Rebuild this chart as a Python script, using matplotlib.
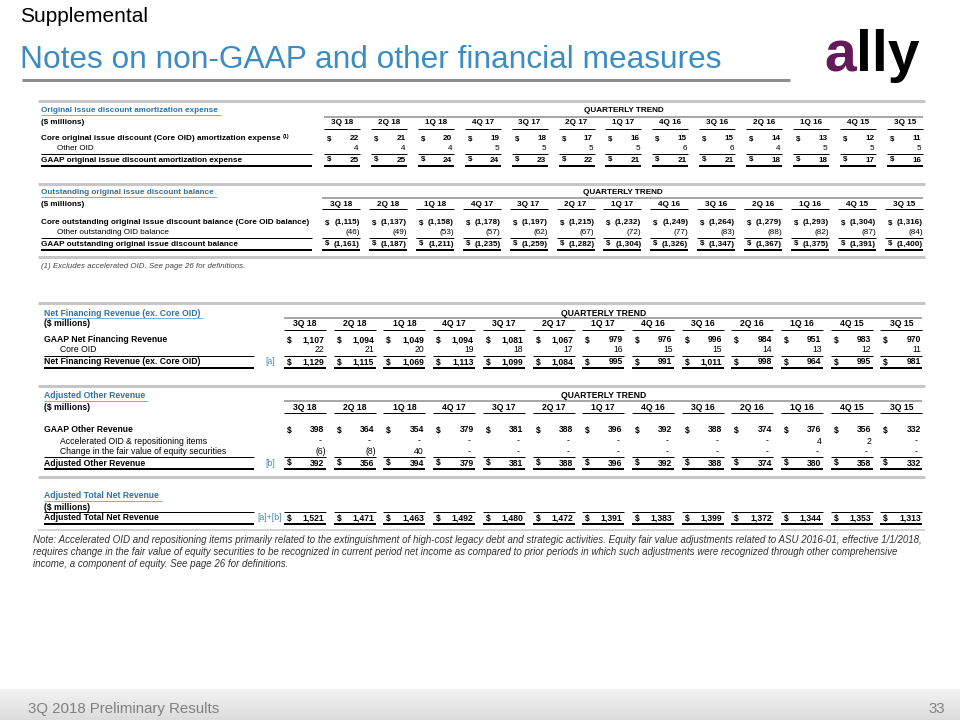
import matplotlib
matplotlib.use("Agg")
import matplotlib.pyplot as plt
import numpy as np
from matplotlib import font_manager
from matplotlib.colors import LinearSegmentedColormap

# ---- data ($ millions) ----
quarters = ["3Q 18", "2Q 18", "1Q 18", "4Q 17", "3Q 17", "2Q 17", "1Q 17",
            "4Q 16", "3Q 16", "2Q 16", "1Q 16", "4Q 15", "3Q 15"]

core_oid_amort = [22, 21, 20, 19, 18, 17, 16, 15, 15, 14, 13, 12, 11]
other_oid_amort = [4, 4, 4, 5, 5, 5, 5, 6, 6, 4, 5, 5, 5]
gaap_oid_amort = [25, 25, 24, 24, 23, 22, 21, 21, 21, 18, 18, 17, 16]

core_oid_bal = [-1115, -1137, -1158, -1178, -1197, -1215, -1232, -1249, -1264, -1279, -1293, -1304, -1316]
other_oid_bal = [-46, -49, -53, -57, -62, -67, -72, -77, -83, -88, -82, -87, -84]
gaap_oid_bal = [-1161, -1187, -1211, -1235, -1259, -1282, -1304, -1326, -1347, -1367, -1375, -1391, -1400]

gaap_nfr = [1107, 1094, 1049, 1094, 1081, 1067, 979, 976, 996, 984, 951, 983, 970]
core_oid = [22, 21, 20, 19, 18, 17, 16, 15, 15, 14, 13, 12, 11]
nfr_ex_oid = [1129, 1115, 1069, 1113, 1099, 1084, 995, 991, 1011, 998, 964, 995, 981]

gaap_other_rev = [398, 364, 354, 379, 381, 388, 396, 392, 388, 374, 376, 356, 332]
accel_oid = [0, 0, 0, 0, 0, 0, 0, 0, 0, 0, 4, 2, 0]
fair_value_chg = [-6, -8, 40, 0, 0, 0, 0, 0, 0, 0, 0, 0, 0]
adj_other_rev = [392, 356, 394, 379, 381, 388, 396, 392, 388, 374, 380, 358, 332]

adj_total_rev = [1521, 1471, 1463, 1492, 1480, 1472, 1391, 1383, 1399, 1372, 1344, 1353, 1313]

note_lines = [
    "Note: Accelerated OID and repositioning items primarily related to the extinguishment of high-cost legacy debt and strategic activities. "
    "Equity fair value adjustments related to ASU 2016-01, effective 1/1/2018,",
    "requires change in the fair value of equity securities to be recognized in current period net income as compared to prior periods "
    "in which such adjustments were recognized through other comprehensive",
    "income, a component of equity. See page 26 for definitions.",
]

# ---- styling ----
BLUE = "#3b8cc2"
SEC_BLUE = "#2a74aa"
TAG_BLUE = "#4a88b8"
BAR_GRAY = "#c6c6c6"
PX = 0.72  # 1 px in points at dpi 100

names = {f.name for f in font_manager.fontManager.ttflist}
HAS_NARROW = "Liberation Sans Narrow" in names
NARROW = "Liberation Sans Narrow" if HAS_NARROW else "Liberation Sans"
NSCALE = 1.0 if HAS_NARROW else 0.875
BASE = "Liberation Sans"

fig = plt.figure(figsize=(9.6, 7.2), dpi=100)
ax = fig.add_axes([0, 0, 1, 1])

# footer band
grad = np.linspace(0, 1, 40)[:, None]
cmap = LinearSegmentedColormap.from_list("band", ["#f3f3f3", "#dcdcdc"])
ax.imshow(grad, extent=(0, 960, 720, 689), cmap=cmap, aspect="auto", zorder=0)
ax.set_xlim(0, 960)
ax.set_ylim(720, 0)
ax.axis("off")


def hline(x0, x1, y, color="black", lw=1.0):
    ax.plot([x0, x1], [y, y], color=color, lw=lw * PX, solid_capstyle="butt")


def txt(x, y, s, size, ha="left", weight="bold", color="black", style="normal", family=BASE, va="center"):
    return ax.text(x, y, s, fontsize=size, ha=ha, va=va, fontweight=weight,
                   color=color, fontstyle=style, family=family)


def fmt(v):
    if v == 0:
        return "-", 5
    if v < 0:
        return f"({abs(v):,})", 0
    return f"{v:,}", 1.5


section_titles = []
sup_anchor = []


def table(bar_y, title, title_y, head_y, x_label, rights, cw, label_end, rows, fs,
          show_quarters=True, qt_y=None, head_line_y=None, tag=None, tag_x=None):
    hline(38, 925, bar_y, BAR_GRAY, 3)
    section_titles.append(txt(x_label, title_y, title, fs, color=SEC_BLUE))
    txt(x_label, head_y, "($ millions)", fs)
    if show_quarters:
        txt((rights[0] - cw + rights[-1]) / 2, title_y, "QUARTERLY TREND", fs, ha="center")
        hline(rights[0] - cw, rights[-1], qt_y, "#8c8c8c", 1.5)
        for q, r in zip(quarters, rights):
            txt(r - cw / 2, head_y, q, fs, ha="center")
            hline(r - cw, r, head_line_y, lw=1)
    for label, vals, kind, y in rows:
        sub = kind == "sub"
        lab = txt(x_label + (16 if sub else 0), y, label, fs, weight="normal" if sub else "bold")
        if label.startswith("Core original"):
            sup_anchor.append(lab)
        for v, r in zip(vals, rights):
            if not sub:
                txt(r - cw + 3, y, "$", fs)
            s, off = fmt(v)
            txt(r - off, y, s, fs, ha="right", weight="normal" if sub else "bold")
        if kind == "total":
            hline(x_label, label_end, y - 6, lw=1)
            hline(x_label, label_end, y + 6, lw=2)
            for r in rights:
                hline(r - cw, r, y - 6, lw=1)
                hline(r - cw, r, y + 6, lw=2)
            if tag:
                txt(tag_x, y, tag, fs, ha="center", weight="normal", color=TAG_BLUE)


# header
txt(20, 16, "Supplemental", 15 * NSCALE / 0.875 if not HAS_NARROW else 15, weight="normal")
txt(20, 60, "Notes on non-GAAP and other financial measures", 26 * NSCALE,
    weight="normal", color=BLUE, family=NARROW)
hline(22, 790, 80, "#8e8e8e", 3)
logo_a = txt(824, 71, "a", 41, weight="bold", color="#641a58", va="baseline")
ax.annotate("lly", xy=(1, 0), xycoords=logo_a, ha="left", va="bottom",
            fontsize=41, fontweight="bold", family=BASE, color="black")

# column grids for the two table groups
right_a = [360 + 46.9 * i for i in range(len(quarters))]
right_b = [326 + 49.7 * i for i in range(len(quarters))]

table(101, "Original issue discount amortization expense", 111, 123, 41, right_a, 36, 312,
      [("Core original issue discount (Core OID) amortization expense", core_oid_amort, "first", 139),
       ("Other OID", other_oid_amort, "sub", 149),
       ("GAAP original issue discount amortization expense", gaap_oid_amort, "total", 160)],
      5.85, qt_y=117, head_line_y=129)

table(184, "Outstanding original issue discount balance", 193, 204, 41, right_a, 38, 312,
      [("Core outstanding original issue discount balance (Core OID balance)", core_oid_bal, "first", 223),
       ("Other outstanding OID balance", other_oid_bal, "sub", 232),
       ("GAAP outstanding original issue discount balance", gaap_oid_bal, "total", 244)],
      5.85, qt_y=198, head_line_y=209)
hline(38, 925, 257, BAR_GRAY, 3)
txt(41, 267, "(1) Excludes accelerated OID. See page 26 for definitions.", 5.7,
    weight="normal", style="italic", color="#444444")

table(303, "Net Financing Revenue (ex. Core OID)", 313, 324, 44, right_b, 42, 254,
      [("GAAP Net Financing Revenue", gaap_nfr, "first", 340),
       ("Core OID", core_oid, "sub", 350),
       ("Net Financing Revenue (ex. Core OID)", nfr_ex_oid, "total", 362)],
      6.2, qt_y=318, head_line_y=330, tag="[a]", tag_x=270)

table(386, "Adjusted Other Revenue", 396, 407, 44, right_b, 42, 254,
      [("GAAP Other Revenue", gaap_other_rev, "first", 430),
       ("Accelerated OID & repositioning items", accel_oid, "sub", 441),
       ("Change in the fair value of equity securities", fair_value_chg, "sub", 452),
       ("Adjusted Other Revenue", adj_other_rev, "total", 463)],
      6.2, qt_y=401, head_line_y=413, tag="[b]", tag_x=270)

table(477, "Adjusted Total Net Revenue", 496, 507, 44, right_b, 42, 254,
      [("Adjusted Total Net Revenue", adj_total_rev, "total", 518)],
      6.2, show_quarters=False, tag="[a]+[b]", tag_x=270)
hline(38, 925, 530, "#d4d4d4", 2)

for i, line in enumerate(note_lines):
    txt(33, 540 + 12 * i, line, 8.2 * NSCALE * (0.855 / 0.875) if not HAS_NARROW else 8.2,
        weight="normal", style="italic", color="#333333", family=NARROW)

# footer
txt(28, 709, "3Q 2018 Preliminary Results", 12.4 * NSCALE, weight="normal",
    color="#808080", family=NARROW)
txt(945, 709, "33", 12.4 * NSCALE, ha="right", weight="normal", color="#808080", family=NARROW)

# underline section titles and add the (1) superscript, using measured text extents
fig.canvas.draw()
inv = ax.transData.inverted()
for t in section_titles:
    bb = t.get_window_extent()
    (x0, y0), (x1, y1) = inv.transform([[bb.x0, bb.y0], [bb.x1, bb.y1]])
    hline(x0, x1 + 3, y0 + 0.5, "#7fb0d6", 1)
for lab in sup_anchor:
    bb = lab.get_window_extent()
    (x0, y0), (x1, y1) = inv.transform([[bb.x0, bb.y0], [bb.x1, bb.y1]])
    ax.text(x1 + 2, y1 + 1, "(1)", fontsize=3.9, ha="left", va="center",
            fontweight="bold", family=BASE)

fig.savefig("out.png", dpi=100)
